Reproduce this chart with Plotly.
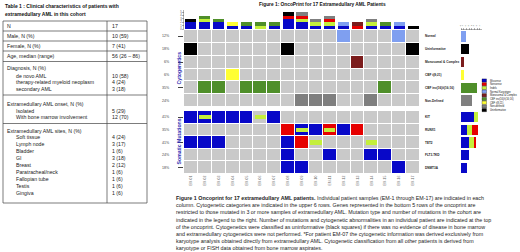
import plotly.graph_objects as go

W, H = 520, 252
def px(x): return x / W
def py(y): return 1 - y / H

FONT = "Liberation Sans, Arial, sans-serif"

# ---------------- data ----------------
patients = [f"EM-{i:02d}" for i in range(1, 18)]

cyto_rows = ["Normal", "Uninformative", "Monosomal & Complex", "CBF t(8;21)",
             "CBF inv(16)/t(16;16)", "Non-Defined"]
INV = "CBF inv(16)/t(16;16)"
cyto_by_patient = ["Uninformative", INV, INV, "CBF t(8;21)", INV, INV, INV,
                   "Uninformative", "Non-Defined", "Non-Defined", "Non-Defined",
                   "Normal", "Monosomal & Complex", "Non-Defined", INV, "Normal",
                   "Uninformative"]

genes = ["KIT", "RUNX1", "TET2", "FLT3-TKD", "DNMT3A"]
# M = missense, N = nonsense, I = indel
kit_muts    = ["M", "M+I", "M", "M", "M", "I", "M", "", "", "", "", "", "", "", "", "", ""]
runx1_muts  = ["", "", "", "", "", "", "", "N", "M+I", "M", "N+I", "M", "N", "", "", "", ""]
tet2_muts   = ["M", "M", "M", "", "", "", "", "M", "N", "I", "", "", "", "I", "", "", ""]
flt3_muts   = ["", "", "", "", "", "", "", "M", "", "", "M", "", "", "M", "M", "", ""]
dnmt3a_muts = ["", "", "", "", "", "", "", "M", "M", "", "", "", "", "", "", "M", ""]
mut_table = [kit_muts, runx1_muts, tet2_muts, flt3_muts, dnmt3a_muts]

table_title = ["Table 1 : Clinical characteristics of patients with",
               "extramedullary AML in this cohort"]
table_labels = ["N", "Male, N (%)", "Female, N (%)", "Age, median (range)",
                "Diagnosis, N (%)", "de novo AML", "therapy-related myeloid neoplasm",
                "secondary AML", "Extramedullary AML onset, N (%)", "Isolated",
                "With bone marrow involvement", "Extramedullary AML sites, N (%)",
                "Soft tissue", "Lymph node", "Bladder", "GI", "Breast",
                "Paratracheal/neck", "Fallopian tube", "Testis", "Gingiva"]
table_values = ["17", "10 (59)", "7 (41)", "56 (26 – 86)", "", "10 (58)", "4 (24)",
                "3 (18)", "", "5 (29)", "12 (70)", "", "4 (24)", "3 (17)", "1 (6)",
                "3 (18)", "2 (12)", "1 (6)", "1 (6)", "1 (6)", "1 (6)"]
table_indent = [0, 0, 0, 0, 0, 1, 1, 1, 0, 1, 1, 0, 1, 1, 1, 1, 1, 1, 1, 1, 1]

caption_lines = [
    "<b>Figure 1 Oncoprint for 17 extramedullary AML patients.</b> Individual patient samples (EM-1 through EM-17) are indicated in each",
    "column. Cytogenetic categories are indicated in the upper 6 rows. Genes represented in the bottom 5 rows of the oncoprint are",
    "restricted to those mutated in 3 or more samples of extramedullary AML. Mutation type and number of mutations in the cohort are",
    "indicated in the legend to the right. Number of mutations and cytogenetic abnormalities in an individual patient are indicated at the top",
    "of the oncoprint. Cytogenetics were classified as uninformative (black squares) if there was no evidence of disease in bone marrow",
    "and extramedullary cytogenetics were not performed. *For patient EM-07 the cytogenetic information was derived exclusively from",
    "karyotype analysis obtained directly from extramedullary AML. Cytogenetic classification from all other patients is derived from",
    "karyotype or FISH data obtained from bone marrow aspirates.",
]

# ---------------- styles ----------------
GREY = "#c9c9c9"
C_MIS, C_NON, C_IND = "#0808c8", "#e60000", "#c4ef3c"
cyto_colors = {"Normal": "#7f9ff0", "Uninformative": "#000000",
               "Monosomal & Complex": "#7b1c1c", "CBF t(8;21)": "#ffff33",
               INV: "#4f8f2a", "Non-Defined": "#7f7f7f"}
codes = [GREY] + [cyto_colors[r] for r in cyto_rows] + [C_MIS, C_NON]
n = len(codes)
cscale = []
for k, c in enumerate(codes):
    cscale += [[k / n, c], [(k + 1) / n, c]]

ncol = len(patients)
xs = list(range(ncol))

fig = go.Figure()

# cytogenetics grid
z_cyto = [[(cyto_rows.index(r) + 1) if cyto_by_patient[c] == r else 0 for c in xs]
          for r in cyto_rows]
fig.add_trace(go.Heatmap(z=z_cyto, x=xs, y=list(range(len(cyto_rows))),
                         colorscale=cscale, zmin=-0.5, zmax=n - 0.5, showscale=False,
                         xgap=1, ygap=1, xaxis="x", yaxis="y", hoverinfo="skip"))

# mutation grid
def full_code(m):
    if "M" in m: return 7
    if "N" in m: return 8
    return 0
z_mut = [[full_code(m) for m in row] for row in mut_table]
fig.add_trace(go.Heatmap(z=z_mut, x=xs, y=list(range(len(genes))),
                         colorscale=cscale, zmin=-0.5, zmax=n - 0.5, showscale=False,
                         xgap=1, ygap=1, xaxis="x", yaxis="y2", hoverinfo="skip"))

# indel inner bars
ix, iy = [], []
for g, row in enumerate(mut_table):
    for c, m in enumerate(row):
        if "I" in m:
            ix.append(c); iy.append(g)
fig.add_trace(go.Bar(x=ix, y=[0.34] * len(ix), base=[g - 0.17 for g in iy],
                     width=0.82, marker=dict(color=C_IND, line_width=0),
                     xaxis="x", yaxis="y2", showlegend=False, hoverinfo="skip"))

# top stacked bars (per patient)
def count(col, t):
    return sum(1 for row in mut_table if t in row[col])
for t, col in [("M", C_MIS), ("I", C_IND), ("N", C_NON)]:
    fig.add_trace(go.Bar(x=xs, y=[count(c, t) for c in xs], width=0.8,
                         marker=dict(color=col, line_width=0),
                         xaxis="x", yaxis="y3", showlegend=False, hoverinfo="skip"))
fig.add_trace(go.Bar(x=xs, y=[1] * ncol, width=0.8,
                     marker=dict(color=[cyto_colors[c] for c in cyto_by_patient], line_width=0),
                     xaxis="x", yaxis="y3", showlegend=False, hoverinfo="skip"))

# right bars: cytogenetics counts
cyto_counts = [cyto_by_patient.count(r) for r in cyto_rows]
fig.add_trace(go.Bar(y=list(range(len(cyto_rows))), x=cyto_counts, orientation="h",
                     width=0.8, marker=dict(color=[cyto_colors[r] for r in cyto_rows], line_width=0),
                     xaxis="x2", yaxis="y", showlegend=False, hoverinfo="skip"))
# right bars: mutation counts
for t, col in [("M", C_MIS), ("I", C_IND), ("N", C_NON)]:
    fig.add_trace(go.Bar(y=list(range(len(genes))),
                         x=[sum(1 for m in row if t in m) for row in mut_table],
                         orientation="h", width=0.8, marker=dict(color=col, line_width=0),
                         xaxis="x3", yaxis="y2", showlegend=False, hoverinfo="skip"))

ann = []
shapes = []

def A(**kw):
    kw.setdefault("showarrow", False)
    kw.setdefault("yanchor", "middle")
    kw.setdefault("xanchor", "left")
    kw.setdefault("xref", "paper")
    kw.setdefault("yref", "paper")
    ann.append(kw)

# row percentages (left) and labels (right)
for r, name in enumerate(cyto_rows):
    pct = round(100 * cyto_counts[r] / ncol)
    A(x=px(172), y=r, yref="y", text=f"{pct}%", xanchor="right",
      font=dict(size=3.6, color="#444"))
    A(x=px(423), y=r, yref="y", text=f"<b>{name}</b>", font=dict(size=3.1, color="#222"))
for g, name in enumerate(genes):
    cnt = sum(1 for m in mut_table[g] if m)
    pct = round(100 * cnt / ncol)
    A(x=px(172), y=g, yref="y2", text=f"{pct}%", xanchor="right",
      font=dict(size=3.6, color="#444"))
    A(x=px(423), y=g, yref="y2", text=f"<b>{name}</b>", font=dict(size=3.1, color="#222"))

A(x=px(178.5), y=py(68), text="<b>Cytogenetics</b>", xanchor="center",
  textangle=-90, font=dict(size=5.2, color="#2a2ab0"))
A(x=px(178.5), y=py(142), text="<b>Somatic Mutations</b>", xanchor="center",
  textangle=-90, font=dict(size=5.2, color="#2a2ab0"))

A(x=px(322), y=py(4.5), xanchor="center",
  text="<b>Figure 1: OncoPrint for 17 Extramedullary AML Patients</b>",
  font=dict(size=4.8, color="#111"))

# legend
legend_items = [("Missense", C_MIS), ("Nonsense", C_NON), ("Indels", C_IND)] + \
               [("Normal Karyotype", cyto_colors["Normal"]),
                ("Monosomal & Complex", cyto_colors["Monosomal & Complex"]),
                ("CBF inv(16)/t(16;16)", cyto_colors[INV]),
                ("CBF t(8;21)", cyto_colors["CBF t(8;21)"]),
                ("Non-defined", cyto_colors["Non-Defined"]),
                ("Uninformative", cyto_colors["Uninformative"])]
for k, (lab, col) in enumerate(legend_items):
    yc = 80.5 + k * 3.7
    shapes.append(dict(type="rect", xref="paper", yref="paper", x0=px(482), x1=px(486.5),
                       y0=py(yc - 1.6), y1=py(yc + 1.6), fillcolor=col,
                       line=dict(color="#000", width=0.3)))
    A(x=px(487.5), y=py(yc), text=lab, font=dict(size=2.6, color="#222"))

# table
A(x=px(3), y=py(5.5), text=f"<b>{table_title[0]}</b>", font=dict(size=5.0, color="#111"))
A(x=px(3), y=py(14), text=f"<b>{table_title[1]}</b>", font=dict(size=5.0, color="#111"))
row_y = [26, 36, 46, 56, 68, 75.5, 82, 88.5, 103.5, 110.5, 117, 130.5,
         137, 144, 151, 158, 165, 172, 179, 186, 193]
for lab, val, ind, yy in zip(table_labels, table_values, table_indent, row_y):
    A(x=px(14 if ind else 4.5), y=py(yy), text=lab, font=dict(size=5.2, color="#222"))
    if val:
        A(x=px(109.5), y=py(yy), text=val, font=dict(size=5.2, color="#222"))
LC = "#444"
shapes.append(dict(type="rect", xref="paper", yref="paper", x0=px(3), x1=px(147),
                   y0=py(21), y1=py(203), line=dict(color=LC, width=0.7)))
shapes.append(dict(type="line", xref="paper", yref="paper", x0=px(107), x1=px(107),
                   y0=py(21), y1=py(203), line=dict(color=LC, width=0.7)))
for yy in [31, 41, 51, 61.5, 95, 123.5]:
    shapes.append(dict(type="line", xref="paper", yref="paper", x0=px(3), x1=px(147),
                       y0=py(yy), y1=py(yy), line=dict(color=LC, width=0.7)))

# caption
for k, line in enumerate(caption_lines):
    A(x=px(174), y=py(198 + k * 7.2), text=line, font=dict(size=5.35, color="#222"))

noax = dict(showgrid=False, zeroline=False, showline=False, automargin=False)
fig.update_layout(
    template="none",
    width=W, height=H, margin=dict(l=0, r=0, t=0, b=0, pad=0, autoexpand=False),
    paper_bgcolor="white", plot_bgcolor="white", barmode="stack", bargap=0,
    font=dict(family=FONT),
    showlegend=False,
    xaxis=dict(domain=[px(184), px(420)], range=[-0.5, ncol - 0.5], anchor="y2",
               tickvals=xs, ticktext=patients, tickangle=-90, ticks="",
               tickfont=dict(size=3.4, color="#666"), **noax),
    yaxis=dict(domain=[py(107), py(30)], range=[len(cyto_rows) - 0.5, -0.5],
               showticklabels=False, anchor="x", **noax),
    yaxis2=dict(domain=[py(174), py(111)], range=[len(genes) - 0.5, -0.5],
                showticklabels=False, anchor="x", **noax),
    yaxis3=dict(domain=[py(29), py(9.5)], range=[0, 5.8], anchor="x", tickvals=list(range(6)),
                tickfont=dict(size=2.6, color="#444"), ticks="outside", ticklen=1.5,
                tickwidth=0.4, showline=True, linewidth=0.4, linecolor="#444",
                showgrid=False, zeroline=False, automargin=False),
    xaxis2=dict(domain=[px(461), px(482)], range=[0, 7.8], anchor="y", side="top",
                tickvals=list(range(8)), tickfont=dict(size=2.4, color="#444"),
                ticks="outside", ticklen=1.2, tickwidth=0.4, showline=True,
                linewidth=0.4, linecolor="#444", showgrid=False, zeroline=False,
                automargin=False),
    xaxis3=dict(domain=[px(461), px(482)], range=[0, 10], anchor="y2",
                showticklabels=False, **noax),
    annotations=ann, shapes=shapes,
)
fig.write_html("out.html", config={"displayModeBar": False, "staticPlot": True},
               post_script="document.body.style.margin='0';document.body.style.overflow='hidden';")
